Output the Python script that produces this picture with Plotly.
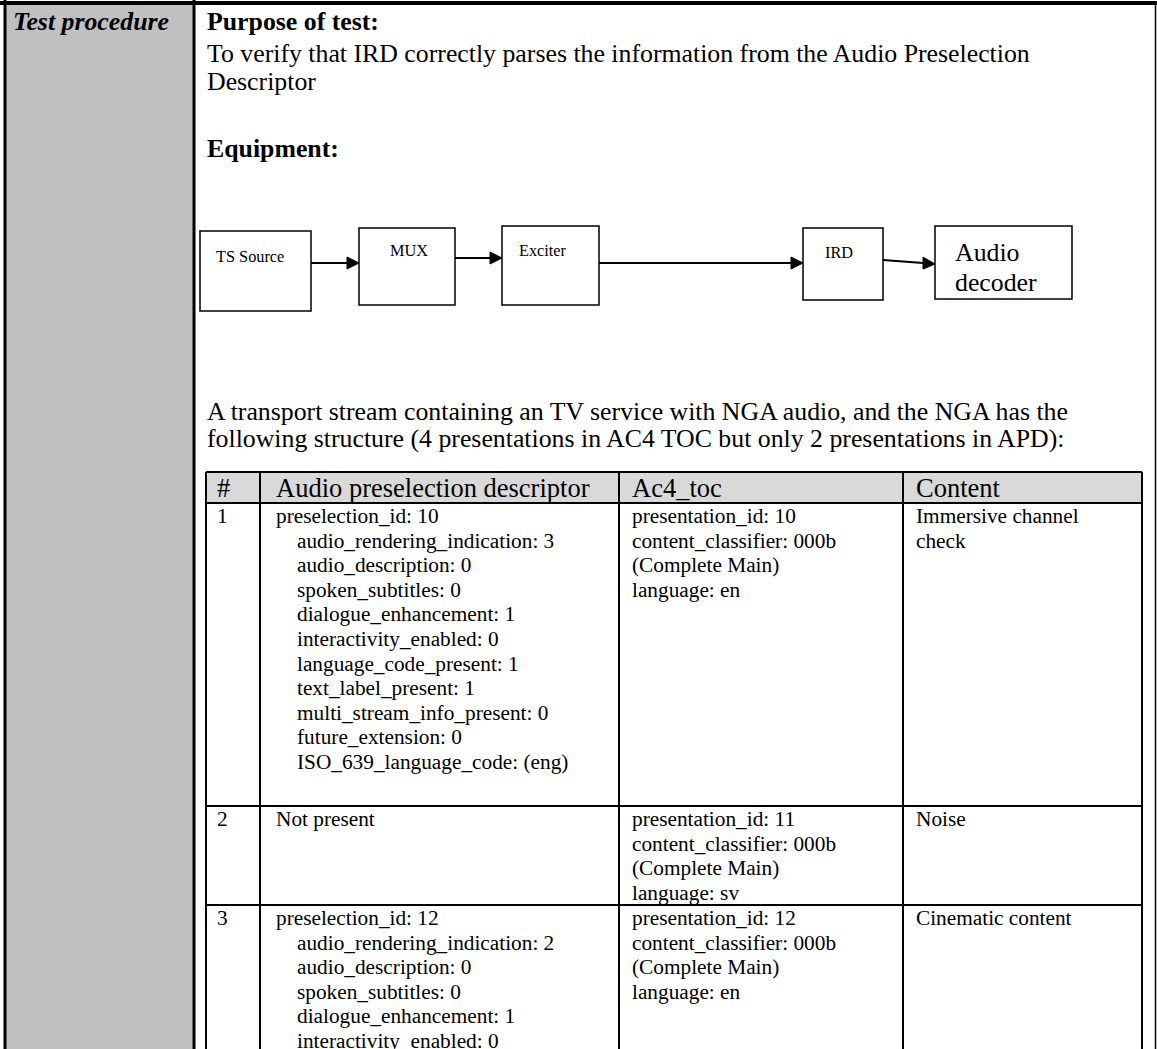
import plotly.graph_objects as go

# ---------------- content ----------------
side_label = "Test procedure"
purpose_heading = "Purpose of test:"
purpose_lines = [
    "To verify that IRD correctly parses the information from the Audio Preselection",
    "Descriptor",
]
equipment_heading = "Equipment:"
flow_labels = ["TS Source", "MUX", "Exciter", "IRD"]
flow_last_label = ["Audio", "decoder"]
intro_lines = [
    "A transport stream containing an TV service with NGA audio, and the NGA has the",
    "following structure (4 presentations in AC4 TOC but only 2 presentations in APD):",
]
table_headers = ["#", "Audio preselection descriptor", "Ac4_toc", "Content"]
row_numbers = ["1", "2", "3"]
descriptor_cells = [
    ["preselection_id: 10", "audio_rendering_indication: 3", "audio_description: 0",
     "spoken_subtitles: 0", "dialogue_enhancement: 1", "interactivity_enabled: 0",
     "language_code_present: 1", "text_label_present: 1", "multi_stream_info_present: 0",
     "future_extension: 0", "ISO_639_language_code: (eng)"],
    ["Not present"],
    ["preselection_id: 12", "audio_rendering_indication: 2", "audio_description: 0",
     "spoken_subtitles: 0", "dialogue_enhancement: 1", "interactivity_enabled: 0"],
]
toc_cells = [
    ["presentation_id: 10", "content_classifier: 000b", "(Complete Main)", "language: en"],
    ["presentation_id: 11", "content_classifier: 000b", "(Complete Main)", "language: sv"],
    ["presentation_id: 12", "content_classifier: 000b", "(Complete Main)", "language: en"],
]
content_cells = [["Immersive channel", "check"], ["Noise"], ["Cinematic content"]]

# ---------------- layout constants ----------------
W, H = 1157, 1049
FONT = "Liberation Serif"
BODY = 25.8
HEAD = 26.5
SMALL = 21.3
TINY = 16.3
GRAY = "#c0c0c0"
HEAD_FILL = "#d9d9d9"

COL_X = [206, 260, 619, 903, 1142]
HEADER_TOP, HEADER_BOTTOM = 472, 503
ROW_BOTTOMS = [806, 905, 1070]
LINE_H = 24.6
BOXES = [(200, 231, 311, 311), (359, 228, 455, 305), (502, 226, 599, 305),
         (803, 228, 883, 300), (935, 226, 1072, 299)]
ARROW_Y = [(263, 263), (258, 258), (263, 263), (260, 264)]
LABEL_POS = [(215, 256), (389, 250), (518, 250), (824, 252)]

fig = go.Figure()
shapes = []
ann = []


def text(x, y, s, size=BODY, bold=False, italic=False, anchor="left"):
    t = s
    if bold:
        t = "<b>" + t + "</b>"
    if italic:
        t = "<i>" + t + "</i>"
    ann.append(dict(x=x, y=y, xref="x", yref="y", text=t, showarrow=False,
                    xanchor=anchor, yanchor="middle",
                    font=dict(family=FONT, size=size, color="black"), borderpad=0))


def line(x0, y0, x1, y1, w=2):
    shapes.append(dict(type="line", x0=x0, y0=y0, x1=x1, y1=y1, xref="x", yref="y",
                       line=dict(color="black", width=w)))


# gray side column and frame
shapes.append(dict(type="rect", x0=4, x1=193, y0=4, y1=H + 5, fillcolor=GRAY,
                   line=dict(width=0), layer="below"))
line(0, 3, W, 3, 4)
line(5, 0, 5, H + 5, 3)
line(194, 0, 194, H + 5, 3)
line(W - 1.5, 3, W - 1.5, H + 5, 1.5)

text(12, 21, side_label, BODY, bold=True, italic=True)
text(206, 21, purpose_heading, BODY, bold=True)
for i, s in enumerate(purpose_lines):
    text(206, 53 + i * 28, s)
text(206, 148, equipment_heading, BODY, bold=True)

# flow diagram
for (x0, y0, x1, y1) in BOXES:
    shapes.append(dict(type="rect", x0=x0, y0=y0, x1=x1, y1=y1, xref="x", yref="y",
                       line=dict(color="black", width=1.5), fillcolor="white"))
for i, (ya, yb) in enumerate(ARROW_Y):
    xa = BOXES[i][2]
    xb = BOXES[i + 1][0]
    tip = xb
    base = xb - 12
    yb_base = ya + (yb - ya) * (base - xa) / (xb - xa)
    line(xa, ya, base, yb_base, 2)
    shapes.append(dict(type="path", xref="x", yref="y",
                       path=f"M {base},{yb_base - 6} L {tip},{yb} L {base},{yb_base + 6} Z",
                       fillcolor="black", line=dict(color="black", width=1)))
for (x, y), s in zip(LABEL_POS, flow_labels):
    text(x, y, s, TINY)
for i, s in enumerate(flow_last_label):
    text(954, 252 + i * 30, s, BODY)

for i, s in enumerate(intro_lines):
    text(206, 411 + i * 27, s)

# table
shapes.append(dict(type="rect", x0=COL_X[0], x1=COL_X[-1], y0=HEADER_TOP, y1=HEADER_BOTTOM,
                   fillcolor=HEAD_FILL, line=dict(width=0), layer="below"))
line(COL_X[0], HEADER_TOP, COL_X[-1], HEADER_TOP, 2)
line(COL_X[0], HEADER_BOTTOM, COL_X[-1], HEADER_BOTTOM, 2)
for yb in ROW_BOTTOMS[:-1]:
    line(COL_X[0], yb, COL_X[-1], yb, 2)
for x in COL_X:
    line(x, HEADER_TOP, x, H + 5, 2)

pad = [10, 15, 12, 12]
for j, h in enumerate(table_headers):
    text(COL_X[j] + pad[j], 488, h, HEAD)

row_tops = [HEADER_BOTTOM] + ROW_BOTTOMS[:-1]
for r in range(len(row_numbers)):
    y0 = row_tops[r] + 13
    text(COL_X[0] + pad[0], y0, row_numbers[r], SMALL)
    for k, s in enumerate(descriptor_cells[r]):
        indent = 0 if k == 0 else 21
        text(COL_X[1] + pad[1] + indent, y0 + k * LINE_H, s, SMALL)
    for k, s in enumerate(toc_cells[r]):
        text(COL_X[2] + pad[2], y0 + k * LINE_H, s, SMALL)
    for k, s in enumerate(content_cells[r]):
        text(COL_X[3] + pad[3], y0 + k * LINE_H, s, SMALL)

fig.update_layout(
    width=W, height=H, margin=dict(l=0, r=0, t=0, b=0),
    paper_bgcolor="white", plot_bgcolor="white",
    xaxis=dict(range=[0, W], visible=False, fixedrange=True),
    yaxis=dict(range=[H, 0], visible=False, fixedrange=True),
    shapes=shapes, annotations=ann, showlegend=False,
)
fig.write_html(
    "out.html",
    config={"displayModeBar": False},
    post_script="document.body.style.margin='0';document.body.style.padding='0';"
                "document.body.style.overflow='hidden';",
)
